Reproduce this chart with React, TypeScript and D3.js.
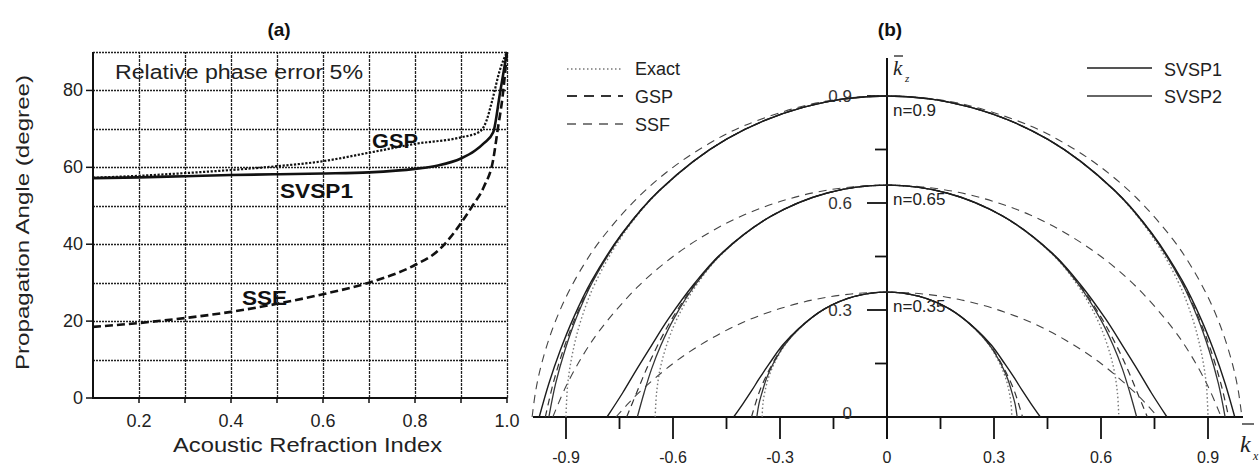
import React from 'react';
import * as d3 from 'd3';

const FONT = "'Liberation Sans', Arial, Helvetica, sans-serif";

// ---------- Panel (a): propagation angle at 5% relative phase error ----------
const refrIndexGSP = [0.1, 0.2, 0.3, 0.4, 0.5, 0.6, 0.7, 0.8, 0.9, 0.94, 0.955, 0.967, 0.985, 1.0];
const angleGSP = [57.3, 57.8, 58.5, 59.3, 60.3, 61.6, 63.8, 66.1, 67.8, 69.2, 72.0, 77.0, 85.5, 90];

const refrIndexSVSP1 = [0.1, 0.2, 0.3, 0.4, 0.5, 0.6, 0.7, 0.8, 0.85, 0.9, 0.93, 0.95, 0.97, 0.985, 1.0];
const angleSVSP1 = [57.2, 57.4, 57.7, 58.0, 58.2, 58.4, 58.7, 59.6, 60.5, 62.3, 64.3, 66.3, 69.1, 79.5, 90];

const refrIndexSSE = [0.1, 0.2, 0.3, 0.4, 0.5, 0.6, 0.7, 0.8, 0.85, 0.875, 0.9, 0.925, 0.95, 0.97, 0.98, 0.99, 1.0];
const angleSSE = [18.5, 19.5, 20.8, 22.4, 24.5, 27.0, 30.0, 34.6, 38.3, 41.5, 45.5, 50.0, 55.0, 62.0, 70.0, 78.0, 90];

const ticksAX = [0.2, 0.4, 0.6, 0.8, 1.0];
const ticksAY = [0, 20, 40, 60, 80];

// ---------- Panel (b): normalized dispersion curves (right half, kx >= 0) ----------
const kz_n035 = [0.350, 0.338, 0.303, 0.247, 0.201, 0.148, 0.108, 0.073, 0.037, 0];
const kxExact_n035 = [0, 0.091, 0.175, 0.247, 0.287, 0.317, 0.333, 0.342, 0.348, 0.350];
const kxSVSP2_n035 = [0, 0.091, 0.175, 0.247, 0.288, 0.320, 0.338, 0.349, 0.359, 0.365];
const kxGSP_n035 = [0, 0.091, 0.175, 0.248, 0.289, 0.322, 0.342, 0.357, 0.369, 0.380];
const kxSVSP1_n035 = [0, 0.091, 0.175, 0.249, 0.293, 0.331, 0.358, 0.380, 0.404, 0.430];

const kz_n065 = [0.650, 0.628, 0.563, 0.460, 0.373, 0.275, 0.201, 0.135, 0.068, 0];
const kxExact_n065 = [0, 0.168, 0.325, 0.460, 0.532, 0.589, 0.618, 0.636, 0.646, 0.650];
const kxSVSP2_n065 = [0, 0.168, 0.325, 0.461, 0.536, 0.598, 0.634, 0.660, 0.681, 0.700];
const kxGSP_n065 = [0, 0.168, 0.325, 0.462, 0.538, 0.603, 0.643, 0.674, 0.702, 0.730];
const kxSVSP1_n065 = [0, 0.168, 0.325, 0.463, 0.541, 0.613, 0.660, 0.701, 0.741, 0.785];

const kz_n090 = [0.900, 0.869, 0.779, 0.636, 0.516, 0.380, 0.278, 0.187, 0.094, 0];
const kxExact_n090 = [0, 0.233, 0.450, 0.636, 0.737, 0.816, 0.856, 0.880, 0.895, 0.900];
const kxSVSP2_n090 = [0, 0.233, 0.450, 0.637, 0.740, 0.825, 0.871, 0.903, 0.929, 0.948];
const kxGSP_n090 = [0, 0.233, 0.450, 0.637, 0.741, 0.826, 0.874, 0.908, 0.936, 0.958];
const kxSVSP1_n090 = [0, 0.233, 0.450, 0.638, 0.742, 0.829, 0.879, 0.916, 0.948, 0.975];

const kxSSF_n035 = [0, 0.1, 0.2, 0.3, 0.4, 0.5, 0.6, 0.7, 0.73, 0.76];
const kzSSF_n035 = [0.350, 0.345, 0.330, 0.304, 0.267, 0.216, 0.150, 0.064, 0.033, 0];
const kxSSF_n065 = [0, 0.1, 0.2, 0.3, 0.4, 0.5, 0.6, 0.7, 0.8, 0.85, 0.9, 0.937];
const kzSSF_n065 = [0.650, 0.645, 0.630, 0.604, 0.567, 0.516, 0.450, 0.364, 0.250, 0.177, 0.086, 0];
const kxSSF_n090 = [0, 0.2, 0.4, 0.5, 0.6, 0.7, 0.8, 0.85, 0.9, 0.94, 0.97, 0.985, 0.995];
const kzSSF_n090 = [0.900, 0.880, 0.817, 0.766, 0.700, 0.614, 0.500, 0.427, 0.336, 0.241, 0.143, 0.073, 0];

const nLabels = ['n=0.35', 'n=0.65', 'n=0.9'];
const nLevels = [0.35, 0.65, 0.9];

const ticksBMajor = [-0.9, -0.6, -0.3, 0, 0.3, 0.6, 0.9];
const ticksBMinor = [-0.75, -0.45, -0.15, 0.15, 0.45, 0.75];
const ticksBYMajor = [0.3, 0.6, 0.9];
const ticksBYMinor = [0.15, 0.45, 0.75];

type Style = { stroke: string; width: number; dash?: string };
const STYLES: Record<string, Style> = {
  exact: { stroke: '#777', width: 1.4, dash: '1.5,2.5' },
  gsp: { stroke: '#333', width: 1.2, dash: '7,5' },
  ssf: { stroke: '#444', width: 1.1, dash: '8,6' },
  svsp1: { stroke: '#1c1c1c', width: 1.4 },
  svsp2: { stroke: '#333', width: 1.3 },
};

const curvesB: { kx: number[]; kz: number[]; kind: string }[] = [
  { kx: kxSSF_n035, kz: kzSSF_n035, kind: 'ssf' },
  { kx: kxSSF_n065, kz: kzSSF_n065, kind: 'ssf' },
  { kx: kxSSF_n090, kz: kzSSF_n090, kind: 'ssf' },
  { kx: kxExact_n035, kz: kz_n035, kind: 'exact' },
  { kx: kxExact_n065, kz: kz_n065, kind: 'exact' },
  { kx: kxExact_n090, kz: kz_n090, kind: 'exact' },
  { kx: kxGSP_n035, kz: kz_n035, kind: 'gsp' },
  { kx: kxGSP_n065, kz: kz_n065, kind: 'gsp' },
  { kx: kxGSP_n090, kz: kz_n090, kind: 'gsp' },
  { kx: kxSVSP2_n035, kz: kz_n035, kind: 'svsp2' },
  { kx: kxSVSP2_n065, kz: kz_n065, kind: 'svsp2' },
  { kx: kxSVSP2_n090, kz: kz_n090, kind: 'svsp2' },
  { kx: kxSVSP1_n035, kz: kz_n035, kind: 'svsp1' },
  { kx: kxSVSP1_n065, kz: kz_n065, kind: 'svsp1' },
  { kx: kxSVSP1_n090, kz: kz_n090, kind: 'svsp1' },
];

// symmetric in kx: build the full arc from the right half
function mirrored(kx: number[], kz: number[]): [number, number][] {
  const right = kx.map((x, i) => [x, kz[i]] as [number, number]);
  const left = right
    .slice(1)
    .map(([x, z]) => [-x, z] as [number, number])
    .reverse();
  return [...left, ...right];
}

export default function App() {
  // scales
  const xA = d3.scaleLinear().domain([0.1, 1.0]).range([93, 507]);
  const yA = d3.scaleLinear().domain([0, 90]).range([398, 52]);
  const xB = d3.scaleLinear().domain([0, 0.9]).range([887, 1208]);
  const yB = d3.scaleLinear().domain([0, 0.9]).range([417, 96]);

  const lineA = (xs: number[], ys: number[]) =>
    d3
      .line<number>()
      .x((_, i) => xA(xs[i]))
      .y((v) => yA(v))
      .curve(d3.curveMonotoneX)(ys) || '';

  const lineB = d3
    .line<[number, number]>()
    .x((d) => xB(d[0]))
    .y((d) => yB(d[1]))
    .curve(d3.curveCatmullRom.alpha(0.5));

  const gridX = d3.range(0.2, 1.0001, 0.1);
  const gridY = d3.range(10, 90.001, 10);
  const tickXSmall = d3.range(0.2, 1.0001, 0.1);

  return (
    <svg
      width={1259}
      height={473}
      style={{ position: 'absolute', left: 0, top: 0, background: '#fff' }}
      fontFamily={FONT}
    >
      <rect width={1259} height={473} fill="#fff" />

      {/* ===== Panel (a) ===== */}
      <g>
        {gridX.map((v) => (
          <line
            key={'gx' + v}
            x1={Math.round(xA(v)) + 0.5}
            x2={Math.round(xA(v)) + 0.5}
            y1={yA(0)}
            y2={yA(90)}
            stroke="#222"
            strokeWidth={1.3}
            strokeDasharray="3,1"
          />
        ))}
        {gridY.map((v) => (
          <line
            key={'gy' + v}
            x1={xA(0.1)}
            x2={xA(1.0)}
            y1={Math.round(yA(v)) + 0.5}
            y2={Math.round(yA(v)) + 0.5}
            stroke="#222"
            strokeWidth={1.3}
            strokeDasharray="2,1"
          />
        ))}
        {/* axes */}
        <line x1={xA(0.1)} x2={xA(0.1)} y1={yA(0) + 1} y2={yA(90)} stroke="#111" strokeWidth={2} />
        <line x1={xA(0.1) - 1} x2={xA(1.0)} y1={yA(0)} y2={yA(0)} stroke="#111" strokeWidth={2} />
        {tickXSmall.map((v) => (
          <line key={'tx' + v} x1={xA(v)} x2={xA(v)} y1={yA(0)} y2={yA(0) + 5} stroke="#111" strokeWidth={1.5} />
        ))}
        {ticksAY.map((v) => (
          <line key={'ty' + v} x1={xA(0.1) - 7} x2={xA(0.1)} y1={yA(v)} y2={yA(v)} stroke="#111" strokeWidth={1.5} />
        ))}
        {ticksAX.map((v) => (
          <text key={'lx' + v} x={xA(v)} y={427} textAnchor="middle" fontSize={18} fill="#222">
            {v.toFixed(1)}
          </text>
        ))}
        {ticksAY.map((v) => (
          <text key={'ly' + v} x={83} y={yA(v) + 6} textAnchor="end" fontSize={18} fill="#222">
            {v}
          </text>
        ))}

        {/* curves */}
        <path d={lineA(refrIndexSSE, angleSSE)} fill="none" stroke="#111" strokeWidth={2.6} strokeDasharray="8,4" />
        <path d={lineA(refrIndexGSP, angleGSP)} fill="none" stroke="#111" strokeWidth={2.2} strokeDasharray="2.2,1.6" />
        <path d={lineA(refrIndexSVSP1, angleSVSP1)} fill="none" stroke="#111" strokeWidth={2.6} />

        {/* labels */}
        <text x={115} y={79} fontSize={20} fill="#222" textLength={248} lengthAdjust="spacingAndGlyphs">
          Relative phase error 5%
        </text>
        <text x={372} y={148} fontSize={20} fontWeight="bold" fill="#111" textLength={46} lengthAdjust="spacingAndGlyphs">
          GSP
        </text>
        <text x={280} y={198} fontSize={20} fontWeight="bold" fill="#111" textLength={73} lengthAdjust="spacingAndGlyphs">
          SVSP1
        </text>
        <text x={242} y={305} fontSize={20} fontWeight="bold" fill="#111" textLength={45} lengthAdjust="spacingAndGlyphs">
          SSE
        </text>
        <text x={279} y={36} fontSize={19} fontWeight="bold" textAnchor="middle" fill="#111">
          (a)
        </text>
        <text x={173} y={452} fontSize={20} fill="#222" textLength={269} lengthAdjust="spacingAndGlyphs">
          Acoustic Refraction Index
        </text>
        <text
          transform="translate(29,370) rotate(-90)"
          x={0}
          y={0}
          fontSize={19}
          fill="#222"
          textLength={295}
          lengthAdjust="spacingAndGlyphs"
        >
          Propagation  Angle (degree)
        </text>
      </g>

      {/* ===== Panel (b) ===== */}
      <g>
        {/* axes */}
        <line x1={533} x2={1243} y1={yB(0)} y2={yB(0)} stroke="#111" strokeWidth={2} />
        <line x1={xB(0)} x2={xB(0)} y1={58} y2={yB(0) + 22} stroke="#111" strokeWidth={2} />
        {ticksBMajor.map((v) => (
          <line key={'bmx' + v} x1={xB(v)} x2={xB(v)} y1={yB(0)} y2={yB(0) + 22} stroke="#111" strokeWidth={1.8} />
        ))}
        {ticksBMinor.map((v) => (
          <line key={'bnx' + v} x1={xB(v)} x2={xB(v)} y1={yB(0)} y2={yB(0) + 12} stroke="#111" strokeWidth={1.8} />
        ))}
        {ticksBYMajor.map((v) => (
          <line key={'bmy' + v} x1={xB(0) - 20} x2={xB(0)} y1={yB(v)} y2={yB(v)} stroke="#111" strokeWidth={1.8} />
        ))}
        {ticksBYMinor.map((v) => (
          <line key={'bny' + v} x1={xB(0) - 12} x2={xB(0)} y1={yB(v)} y2={yB(v)} stroke="#111" strokeWidth={1.8} />
        ))}
        {ticksBMajor.map((v) => (
          <text key={'blx' + v} x={xB(v)} y={463} textAnchor="middle" fontSize={16} fill="#222">
            {v === 0 ? '0' : v.toFixed(1)}
          </text>
        ))}
        {ticksBYMajor.map((v) => (
          <text key={'bly' + v} x={852} y={yB(v) + 6} textAnchor="end" fontSize={17} fill="#333">
            {v.toFixed(1)}
          </text>
        ))}
        <text x={852} y={yB(0) + 2} textAnchor="end" fontSize={17} fill="#333">
          0
        </text>

        {/* dispersion curves */}
        {curvesB.map((c, i) => {
          const s = STYLES[c.kind];
          return (
            <path
              key={'cb' + i}
              d={lineB(mirrored(c.kx, c.kz)) || ''}
              fill="none"
              stroke={s.stroke}
              strokeWidth={s.width}
              strokeDasharray={s.dash}
            />
          );
        })}

        {/* n labels */}
        {nLevels.map((n, i) => (
          <text key={'nl' + n} x={893} y={yB(n) + 20} fontSize={17} fill="#222">
            {nLabels[i]}
          </text>
        ))}

        {/* axis names */}
        <text x={893} y={75} fontSize={21} fontStyle="italic" fontFamily="'Liberation Serif', serif" fill="#222">
          k
        </text>
        <line x1={894} x2={903} y1={56} y2={56} stroke="#222" strokeWidth={1.3} />
        <text x={905} y={82} fontSize={11} fontStyle="italic" fontFamily="'Liberation Serif', serif" fill="#222">
          z
        </text>
        <text x={1240} y={452} fontSize={24} fontStyle="italic" fontFamily="'Liberation Serif', serif" fill="#222">
          k
        </text>
        <line x1={1242} x2={1254} y1={424} y2={424} stroke="#222" strokeWidth={1.3} />
        <text x={1253} y={460} fontSize={12} fontStyle="italic" fontFamily="'Liberation Serif', serif" fill="#222">
          x
        </text>

        <text x={890} y={36} fontSize={19} fontWeight="bold" textAnchor="middle" fill="#111">
          (b)
        </text>

        {/* legend, left */}
        <line x1={567} x2={623} y1={69} y2={69} stroke={STYLES.exact.stroke} strokeWidth={1.4} strokeDasharray={STYLES.exact.dash} />
        <line x1={567} x2={623} y1={96} y2={96} stroke="#333" strokeWidth={1.8} strokeDasharray="10,7" />
        <line x1={567} x2={623} y1={124} y2={124} stroke="#555" strokeWidth={1.3} strokeDasharray="9,7" />
        <text x={635} y={75} fontSize={18} fill="#222">Exact</text>
        <text x={635} y={103} fontSize={18} fill="#222">GSP</text>
        <text x={635} y={131} fontSize={18} fill="#222">SSF</text>

        {/* legend, right */}
        <line x1={1087} x2={1152} y1={68} y2={68} stroke={STYLES.svsp1.stroke} strokeWidth={1.3} />
        <line x1={1087} x2={1152} y1={96} y2={96} stroke={STYLES.svsp2.stroke} strokeWidth={1.5} />
        <text x={1164} y={76} fontSize={18} fill="#222">SVSP1</text>
        <text x={1164} y={103} fontSize={18} fill="#222">SVSP2</text>
      </g>
    </svg>
  );
}
